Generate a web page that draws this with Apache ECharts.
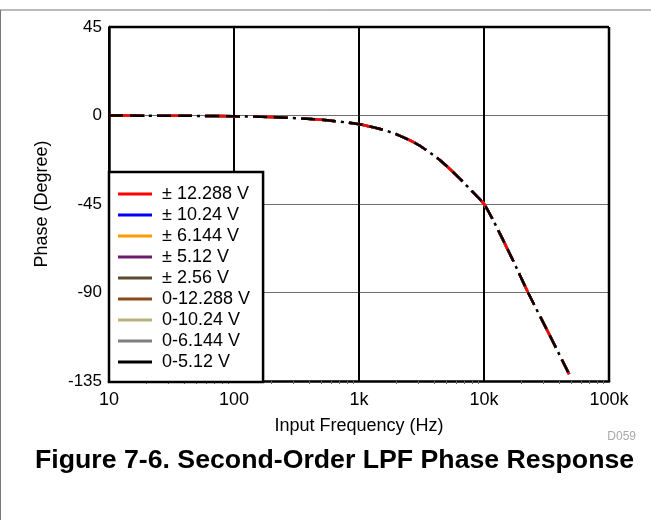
<!DOCTYPE html>
<html>
<head>
<meta charset="utf-8">
<script src="https://cdn.jsdelivr.net/npm/echarts@6/dist/echarts.min.js"></script>
<style>
  html, body { margin: 0; padding: 0; background: #fff; }
  #chart { width: 651px; height: 520px; }
</style>
</head>
<body>
<div id="chart"></div>
<script>
// Supply ranges shown in the legend
const rangeNames = ['± 12.288 V', '± 10.24 V', '± 6.144 V', '± 5.12 V', '± 2.56 V',
                    '0-12.288 V', '0-10.24 V', '0-6.144 V', '0-5.12 V'];
const rangeColors = ['#ff0000', '#0000ff', '#ff9900', '#6a1b6a', '#5e4a2c',
                     '#8b4a1c', '#b8b27a', '#7f7f7f', '#000000'];

// Phase response (degrees) vs input frequency (Hz); identical for every range
const freqHz = [10, 20, 50, 100, 200, 500, 1000, 1500, 2000, 3000, 4500, 6500,
                8000, 10000, 12000, 14000, 17000, 22500, 33700, 48000];
const phaseDeg = [0, -0.1, -0.2, -0.4, -0.8, -2.1, -4.4, -7.0, -9.6, -15.0, -23.0, -32.5,
                  -38.5, -45, -54, -62.5, -73.5, -90, -112, -131.5];

const xTickLabels = { 10: '10', 100: '100', 1000: '1k', 10000: '10k', 100000: '100k' };
const yTicks = { min: -135, max: 45, step: 45 };

const FONT = '"Liberation Sans", Arial, sans-serif';
const curve = freqHz.map((f, i) => [f, phaseDeg[i]]);

const series = rangeNames.map((name, i) => {
  const last = i === rangeNames.length - 1;
  const first = i === 0;
  return {
    name,
    type: 'line',
    data: curve,
    showSymbol: false,
    smooth: 0.2,
    color: rangeColors[i],
    z: last ? 5 : (first ? 4 : 3),
    lineStyle: {
      width: 2.5,
      color: rangeColors[i],
      type: last ? [14, 7, 14, 5, 3, 5] : [35, 13],
      cap: 'butt'
    }
  };
});

const chart = echarts.init(document.getElementById('chart'), null, { renderer: 'canvas' });
chart.setOption({
  animation: false,
  backgroundColor: '#fff',
  textStyle: { fontFamily: FONT },
  grid: { left: 109, right: 42, top: 27, bottom: 139, show: false },
  xAxis: {
    type: 'log',
    logBase: 10,
    min: 10,
    max: 100000,
    name: 'Input Frequency (Hz)',
    nameLocation: 'middle',
    nameGap: 36,
    nameTextStyle: { color: '#000', fontSize: 18, fontFamily: FONT },
    axisLine: { show: true, onZero: false, lineStyle: { color: '#000', width: 2.5 } },
    axisTick: { show: false },
    minorTick: { show: true, splitNumber: 9, length: 3, lineStyle: { color: '#666', width: 1 } },
    axisLabel: {
      color: '#000', fontSize: 18, fontFamily: FONT, margin: 10,
      formatter: v => xTickLabels[Math.round(v)] || ''
    },
    splitLine: { show: true, lineStyle: { color: '#000', width: 2 } }
  },
  yAxis: {
    type: 'value',
    min: yTicks.min,
    max: yTicks.max,
    interval: yTicks.step,
    name: 'Phase (Degree)',
    nameLocation: 'middle',
    nameGap: 58,
    nameRotate: 90,
    nameTextStyle: { color: '#000', fontSize: 18, fontFamily: FONT },
    axisLine: { show: true, lineStyle: { color: '#000', width: 2.5 } },
    axisTick: { show: false },
    axisLabel: { color: '#000', fontSize: 17, fontFamily: FONT, margin: 7 },
    splitLine: { show: true, lineStyle: { color: '#6e6e6e', width: 1 } }
  },
  legend: {
    orient: 'vertical',
    left: 109,
    top: 172,
    padding: [13, 13, 11, 9],
    itemGap: 3,
    itemWidth: 34,
    itemHeight: 3,
    icon: 'rect',
    backgroundColor: '#fff',
    borderColor: '#000',
    borderWidth: 2.5,
    borderRadius: 0,
    z: 10,
    textStyle: { color: '#000', fontSize: 18, fontFamily: FONT, lineHeight: 18, padding: [0, 0, 0, 5] },
    data: rangeNames
  },
  graphic: [
    // page frame lines
    { type: 'line', shape: { x1: 0, y1: 10, x2: 651, y2: 10 }, style: { stroke: '#777', lineWidth: 1 }, silent: true },
    { type: 'line', shape: { x1: 0.5, y1: 10, x2: 0.5, y2: 520 }, style: { stroke: '#777', lineWidth: 1 }, silent: true },
    // right and top plot border
    { type: 'line', shape: { x1: 109, y1: 27, x2: 609, y2: 27 }, style: { stroke: '#000', lineWidth: 2.5 }, z: 20, silent: true },
    { type: 'line', shape: { x1: 609, y1: 27, x2: 609, y2: 382 }, style: { stroke: '#000', lineWidth: 2.5 }, z: 20, silent: true },
    {
      type: 'text', right: 15, top: 431,
      style: { text: 'D059', fill: '#a8a8a8', font: '12px ' + FONT }
    },
    {
      type: 'text', left: 35, top: 447,
      style: { text: 'Figure 7-6. Second-Order LPF Phase Response', fill: '#000', font: 'bold 26.7px ' + FONT }
    }
  ],
  series
});
</script>
</body>
</html>
